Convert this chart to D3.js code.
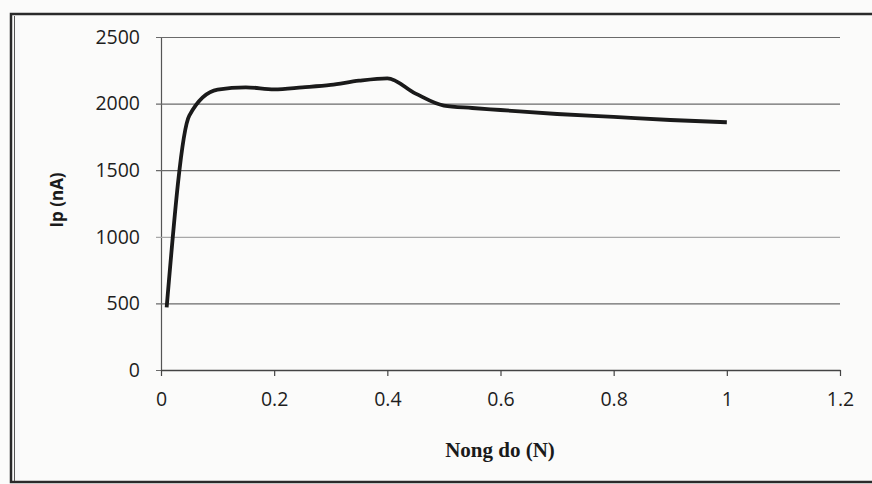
<!DOCTYPE html>
<html>
<head>
<meta charset="utf-8">
<script src="https://cdn.jsdelivr.net/npm/d3@7"></script>
<style>
  html, body { margin: 0; padding: 0; background: #fbfbfa; }
  svg { display: block; }
</style>
</head>
<body>
<svg id="chart" width="872" height="484"></svg>
<script>
// Data
const concentration = [0.01, 0.05, 0.1, 0.15, 0.2, 0.25, 0.3, 0.35, 0.4, 0.45, 0.5, 0.55, 0.6, 0.7, 0.8, 0.9, 1.0];
const current       = [470, 1910, 2105, 2122, 2107, 2122, 2140, 2172, 2190, 2075, 1985, 1967, 1952, 1922, 1900, 1877, 1860];
const xTicks = [0, 0.2, 0.4, 0.6, 0.8, 1, 1.2];
const yTicks = [0, 500, 1000, 1500, 2000, 2500];
const xTitle = "Nong do (N)";
const yTitle = "Ip (nA)";

const svg = d3.select("#chart");
const m = { left: 161, right: 840, top: 37, bottom: 370 };

const x = d3.scaleLinear().domain([0, 1.2]).range([m.left, m.right]);
const y = d3.scaleLinear().domain([0, 2500]).range([m.bottom, m.top]);

// frame (scanned page border)
svg.append("rect").attr("x", 11).attr("y", 14).attr("width", 880).attr("height", 468)
  .attr("fill", "none").attr("stroke", "#2a2a2a").attr("stroke-width", 2.5);
svg.append("line").attr("x1", 14.5).attr("x2", 14.5).attr("y1", 16).attr("y2", 481)
  .attr("stroke", "#555").attr("stroke-width", 1);

// gridlines + y axis
const yAxis = d3.axisLeft(y).tickValues(yTicks).tickSize(-(m.right - m.left)).tickSizeOuter(0).tickPadding(16)
  .tickFormat(d3.format("d"));
const gy = svg.append("g").attr("transform", `translate(${m.left},0)`).call(yAxis);
gy.select(".domain").attr("stroke", "#555").attr("stroke-width", 1.2);
gy.selectAll(".tick line").attr("stroke", d => d === 1000 ? "#a8a8a8" : "#6a6a6a").attr("stroke-width", 1.2)
  .attr("x1", -5);
gy.selectAll(".tick text").attr("font-family", "'Open Sans', sans-serif").attr("font-size", 19.5)
  .attr("fill", "#1e1e1e").attr("x", -21);

// x axis
const xAxis = d3.axisBottom(x).tickValues(xTicks).tickSize(6).tickSizeOuter(0).tickPadding(16)
  .tickFormat(d => String(d));
const gx = svg.append("g").attr("transform", `translate(0,${m.bottom})`).call(xAxis);
gx.select(".domain").attr("stroke", "#444").attr("stroke-width", 1.3);
gx.selectAll(".tick line").attr("stroke", "#444").attr("stroke-width", 1.2);
gx.selectAll(".tick text").attr("font-family", "'Open Sans', sans-serif").attr("font-size", 19.5)
  .attr("fill", "#1e1e1e");

// data line
const pts = concentration.map((c, i) => [c, current[i]]);
const line = d3.line().x(d => x(d[0])).y(d => y(d[1])).curve(d3.curveMonotoneX);
svg.append("path").datum(pts).attr("d", line)
  .attr("fill", "none").attr("stroke", "#1a1a1a").attr("stroke-width", 3.8)
  .attr("stroke-linejoin", "round").attr("stroke-linecap", "butt");

// axis titles
svg.append("text").attr("x", 500).attr("y", 457).attr("text-anchor", "middle")
  .attr("font-family", "'Liberation Serif', 'Times New Roman', serif").attr("font-weight", "bold")
  .attr("font-size", 21).attr("fill", "#1a1a1a").text(xTitle);
svg.append("text").attr("transform", "translate(63,200) rotate(-90)").attr("text-anchor", "middle")
  .attr("font-family", "'Open Sans', sans-serif").attr("font-weight", "bold")
  .attr("font-size", 17).attr("fill", "#1a1a1a").text(yTitle);
</script>
</body>
</html>
